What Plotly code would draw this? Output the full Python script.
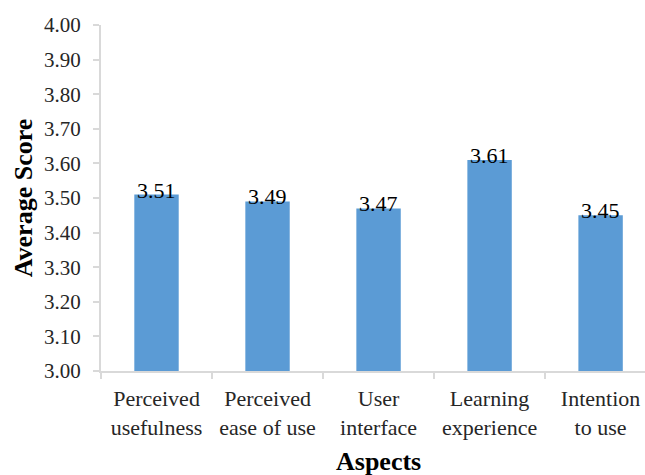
import plotly.graph_objects as go

categories = ["Perceived<br>usefulness", "Perceived<br>ease of use", "User<br>interface",
              "Learning<br>experience", "Intention<br>to use"]
scores = [3.51, 3.49, 3.47, 3.61, 3.45]
y_ticks = [3.0 + 0.1 * i for i in range(11)]
y_ticktext = ["%.2f" % v for v in y_ticks]

FONT = "Liberation Serif, Times New Roman, serif"
GREY = "#d9d9d9"

fig = go.Figure()
fig.add_trace(go.Bar(
    x=categories, y=scores, width=0.4,
    marker=dict(color="#5B9BD5", line=dict(width=0)),
))

for c, v in zip(categories, scores):
    fig.add_annotation(
        x=c, y=v, text="%.2f" % v, showarrow=False,
        xanchor="center", yanchor="bottom", yshift=-10,
        font=dict(family=FONT, size=22, color="#000"),
    )

fig.add_annotation(
    x=0.51, xref="paper", y=0, yref="paper", yanchor="middle", yshift=-90,
    text="<b>Aspects</b>", showarrow=False,
    font=dict(family=FONT, size=26, color="#000"),
)

fig.update_layout(
    width=645, height=475,
    margin=dict(l=101, r=0, t=25, b=104),
    paper_bgcolor="white", plot_bgcolor="white",
    font=dict(family=FONT, size=22, color="#262626"),
    showlegend=False,
)
fig.update_xaxes(
    range=[-0.5, 4.4],
    showline=True, linecolor=GREY, linewidth=2,
    ticks="outside", tickson="boundaries", ticklen=6, tickcolor=GREY, tickwidth=2,
    showgrid=False, zeroline=False,
    tickfont=dict(family=FONT, size=22, color="#262626"),
    ticklabelstandoff=7,
)
fig.update_yaxes(
    range=[3.0, 4.0],
    tickvals=y_ticks, ticktext=y_ticktext,
    showline=True, linecolor=GREY, linewidth=2,
    ticks="outside", ticklen=6, tickcolor=GREY, tickwidth=2,
    showgrid=False, zeroline=False,
    tickfont=dict(family=FONT, size=21, color="#262626"),
    ticklabelstandoff=8,
    title=dict(text="<b>Average Score</b>", font=dict(family=FONT, size=26, color="#000"), standoff=4),
)

fig.write_html("out.html")
